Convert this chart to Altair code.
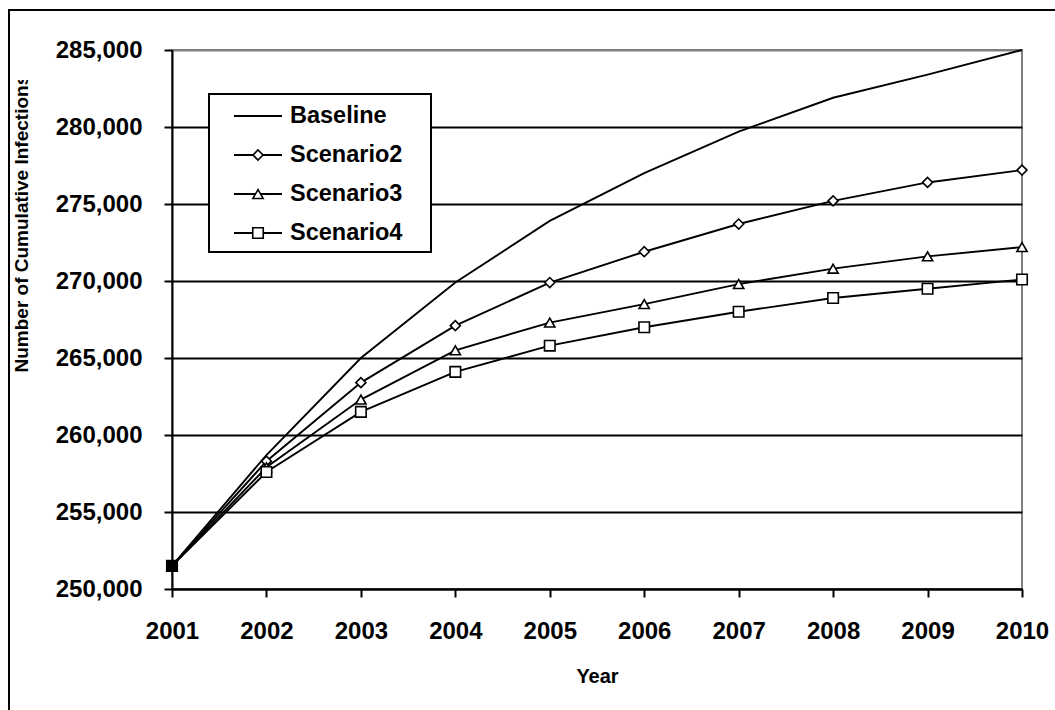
import altair as alt
import pandas as pd

# Cumulative infections by year for four intervention scenarios
years = [2001, 2002, 2003, 2004, 2005, 2006, 2007, 2008, 2009, 2010]
baseline = [251500, 258700, 265000, 269900, 273900, 277000, 279700, 281900, 283400, 285000]
scenario2 = [251500, 258300, 263400, 267100, 269900, 271900, 273700, 275200, 276400, 277200]
scenario3 = [251500, 257900, 262300, 265500, 267300, 268500, 269800, 270800, 271600, 272200]
scenario4 = [251500, 257600, 261500, 264100, 265800, 267000, 268000, 268900, 269500, 270100]
series_names = ["Baseline", "Scenario2", "Scenario3", "Scenario4"]
y_ticks = [250000, 255000, 260000, 265000, 270000, 275000, 280000, 285000]

rows = []
for name, vals in zip(series_names, [baseline, scenario2, scenario3, scenario4]):
    for yr, v in zip(years, vals):
        rows.append({"year": yr, "value": v, "series": name})
df = pd.DataFrame(rows)
legend_df = pd.DataFrame({"series": series_names})

FONT = "Liberation Sans"
W, H = 850, 539

marker_domain = ["Scenario2", "Scenario3", "Scenario4"]
shape_enc = alt.Shape(
    "series:N",
    scale=alt.Scale(domain=marker_domain, range=["diamond", "triangle-up", "square"]),
    legend=None,
)
size_enc = alt.Size(
    "series:N",
    scale=alt.Scale(domain=marker_domain, range=[100, 110, 72]),
    legend=None,
)

x_enc = alt.X(
    "year:Q",
    scale=alt.Scale(domain=[2001, 2010], nice=False, zero=False),
    axis=alt.Axis(
        values=years, format="d", grid=False, title="Year",
        labelFont=FONT, labelFontSize=24, labelFontWeight="bold", labelColor="black",
        labelPadding=22, labelFlush=False, labelOverlap=False,
        tickColor="black", tickSize=8, tickWidth=2,
        domainColor="black", domainWidth=2,
        titleFont=FONT, titleFontSize=20, titleFontWeight="bold", titleColor="black",
        titlePadding=23,
    ),
)
y_enc = alt.Y(
    "value:Q",
    scale=alt.Scale(domain=[250000, 285000], nice=False, zero=False),
    axis=alt.Axis(
        values=y_ticks, format=",d",
        labelFont=FONT, labelFontSize=24, labelFontWeight="bold", labelColor="black",
        labelPadding=22, labelFlush=False, labelOverlap=False,
        tickColor="black", tickSize=8, tickWidth=2,
        domainColor="black", domainWidth=2,
        grid=True, gridWidth=2,
        gridColor={"condition": {"test": "datum.value >= 285000", "value": "#808080"},
                   "value": "black"},
        title="Number of Cumulative Infections",
        titleFont=FONT, titleFontSize=19, titleFontWeight="bold",
        titleColor="black", titleAngle=270, titleAlign="left", titleBaseline="middle",
        titleX=-151, titleY=322,
    ),
)

# outer chart border (runs past the right and bottom edges of the page)
frame = alt.Chart(alt.Data(values=[{}])).mark_rect(
    fill="white", fillOpacity=0, stroke="black", strokeWidth=2
).encode(
    x=alt.value(-163), x2=alt.value(1300), y=alt.value(-40), y2=alt.value(900)
)

lines = alt.Chart(df).mark_line(color="black", strokeWidth=1.9).encode(
    x=x_enc, y=y_enc, detail="series:N"
)

markers = alt.Chart(df).transform_filter(
    alt.datum.series != "Baseline"
).mark_point(filled=True, stroke="black", strokeWidth=1.6, opacity=1).encode(
    x="year:Q",
    y="value:Q",
    shape=shape_enc,
    size=size_enc,
    fill=alt.condition(alt.datum.year == 2001, alt.value("black"), alt.value("white")),
)

data_layers = alt.layer(lines, markers)

# legend: framed box with a line key and marker per series
key_y = alt.Y(
    "series:N",
    scale=alt.Scale(type="point", domain=series_names, range=[66, 183], padding=0),
    axis=None,
)
legend_box = alt.Chart(alt.Data(values=[{}])).mark_rect(
    fill="white", stroke="black", strokeWidth=2
).encode(x=alt.value(37), x2=alt.value(259), y=alt.value(44), y2=alt.value(202))

legend_lines = alt.Chart(legend_df).mark_rule(color="black", strokeWidth=1.9).encode(
    x=alt.value(62), x2=alt.value(110), y=key_y
)
legend_marks = alt.Chart(legend_df).transform_filter(
    alt.datum.series != "Baseline"
).mark_point(filled=True, fill="white", stroke="black", strokeWidth=1.6, opacity=1).encode(
    x=alt.value(86), y=key_y, shape=shape_enc, size=size_enc
)
legend_text = alt.Chart(legend_df).mark_text(
    align="left", baseline="middle", font=FONT, fontSize=23.5, fontWeight="bold", color="black"
).encode(x=alt.value(118), y=key_y, text="series:N")

legend_layers = alt.layer(legend_box, legend_lines, legend_marks, legend_text)

# clip the end of the rotated axis title
title_clip = alt.Chart(alt.Data(values=[{}])).mark_rect(fill="white").encode(
    x=alt.value(-161), x2=alt.value(-135), y=alt.value(-30), y2=alt.value(30)
)

chart = alt.layer(frame, data_layers, legend_layers, title_clip).resolve_scale(
    y="independent"
).properties(
    width=W, height=H,
    padding={"left": 172, "top": 50, "right": 33, "bottom": 121},
    autosize=alt.AutoSizeParams(type="none"),
    background="white",
).configure_view(
    stroke="#808080", strokeWidth=2
)

chart.save("out.html", embed_options={"renderer": "svg", "actions": False})
